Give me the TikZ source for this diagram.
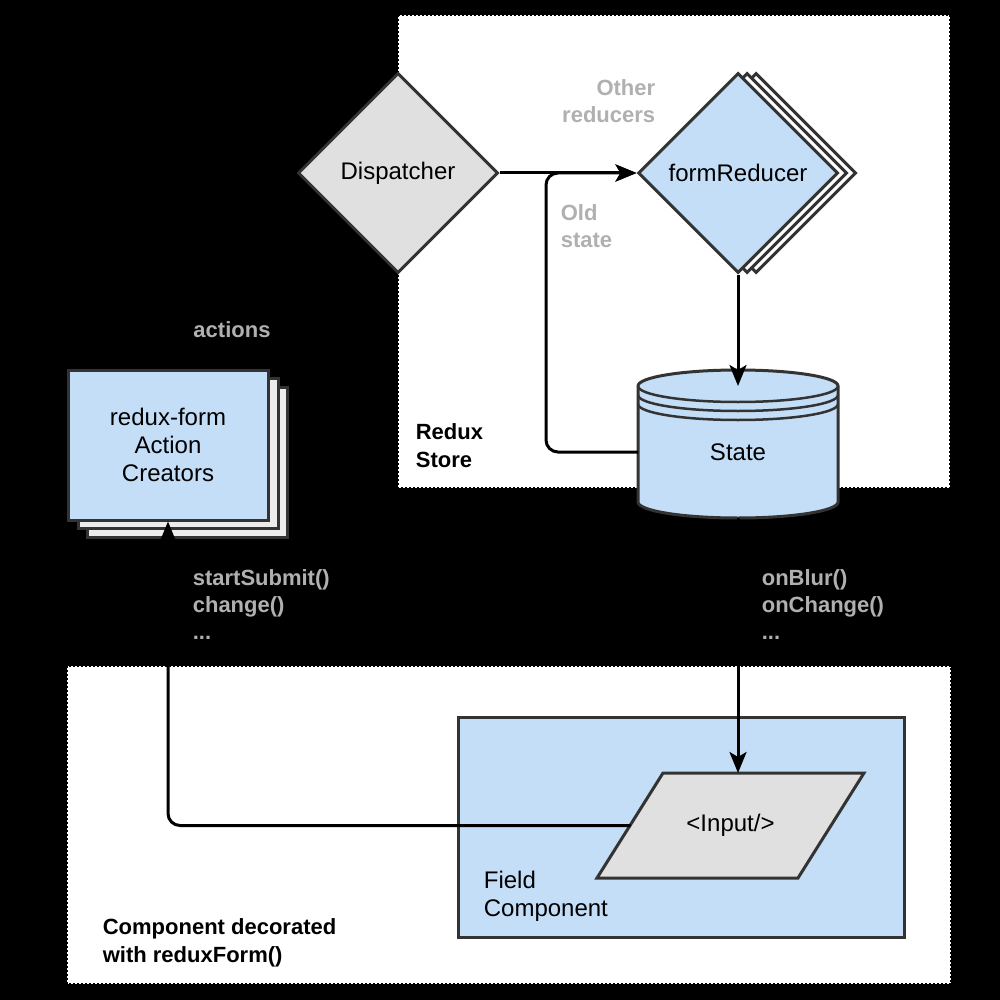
\documentclass[tikz,border=0pt]{standalone}
\usepackage{fontspec}
\setmainfont{Liberation Sans}
\usetikzlibrary{arrows.meta,shapes.geometric,positioning}
\definecolor{boxblue}{RGB}{196,222,247}
\definecolor{boxgray}{RGB}{224,224,224}
\definecolor{copygray}{RGB}{236,236,236}
\definecolor{edgegray}{RGB}{51,51,51}
\definecolor{labelgray}{RGB}{176,176,176}
\tikzset{
    container/.style={fill=white, draw=black, line width=2pt, dash pattern=on 2pt off 2pt},
    reducerbox/.style={diamond, draw=edgegray, line width=3pt, minimum width=200pt, minimum height=200pt, inner sep=0pt},
    actionbox/.style={rectangle, draw=edgegray, line width=3pt, minimum width=200pt, minimum height=150pt, inner sep=0pt, align=center},
    edgelabel/.style={text=labelgray, font=\bfseries\fontsize{22pt}{27pt}\selectfont},
    boxlabel/.style={text=black, align=left, font=\bfseries\fontsize{22pt}{28pt}\selectfont},
}

\begin{document}
\begin{tikzpicture}[x=1pt, y=-1pt, line width=3pt, black,
    >={Stealth[length=21pt, width=17pt, inset=5pt]},
    every node/.style={font=\fontsize{24pt}{28pt}\selectfont}]
    \path[use as bounding box, fill=black] (0,0) rectangle (1000,1000);

    %Containers
    \draw[container] (398,15) rectangle (950,488);
    \draw[container] (67,666) rectangle (951,984);
    \draw[draw=edgegray, fill=boxblue] (458,717) rectangle (904,937);

    %Nodes
    \node (disp) [reducerbox, fill=boxgray] at (398,173) {Dispatcher};

    \node (redC) [reducerbox, fill=white] at (756,173) {};
    \node (redB) [reducerbox, fill=white] at (747,173) {};
    \node (red)  [reducerbox, fill=boxblue] at (738,173) {formReducer};

    \node (creatorsC) [actionbox, fill=copygray] at (187,462) {};
    \node (creatorsB) [actionbox, fill=copygray] at (178,453) {};
    \node (creators)  [actionbox, fill=boxblue] at (168,445) {redux-form\\Action\\Creators};

    % cylinder for the state
    \draw[draw=edgegray, fill=boxblue] (638,386) -- (638,502)
        arc[start angle=180, end angle=0, x radius=100, y radius=16] -- (838,386)
        arc[start angle=0, end angle=-180, x radius=100, y radius=16] -- cycle;
    \foreach \dy in {0,9,18}
        \draw[draw=edgegray, line width=2.5pt] (638,386+\dy) arc[start angle=180, end angle=0, x radius=100, y radius=16];
    \node (state) [minimum width=200pt, minimum height=132pt, inner sep=0pt, outer sep=0pt] at (738,452) {State};

    % parallelogram for the input
    \draw[draw=edgegray, fill=boxgray] (597,878) -- (798,878) -- (864,773) -- (663,773) -- cycle;
    \node (input) [minimum width=200pt, minimum height=105pt, inner sep=0pt, outer sep=0pt] at (730.5,825.5) {<Input/>};

    % Text labels (outside nodes)
    \node (actionsLabel) [edgelabel]                          at (232,330) {actions};
    \node (otherLabel)   [edgelabel, align=right, anchor=east] at (660,101) {Other\\reducers};
    \node (oldLabel)     [edgelabel, align=left, anchor=west]  at (556,226) {Old\\state};
    \node (submitLabel)  [edgelabel, align=left, anchor=west]  at (188,605) {startSubmit()\\change()\\...};
    \node (blurLabel)    [edgelabel, align=left, anchor=west]  at (757,605) {onBlur()\\onChange()\\...};
    \node (storeLabel)   [boxlabel, anchor=west]               at (411,446) {Redux\\Store};
    \node (formLabel)    [boxlabel, anchor=west]               at (98,943)  {Component decorated\\with reduxForm()};
    \node (fieldLabel)   [align=left, anchor=west]             at (479,896) {Field\\Component};

    %Lines
    \draw[->] (creators.north) |- (disp.west);
    \draw[->] (disp.east) -- (red.west);
    \draw[->, rounded corners=12pt] (state.west) -- ++(-92,0) |- (red.west);
    \draw[->] (red.south) -- (state.north);
    \draw[->] (state.south) -- (state.south |- input.north);
    \draw[->, rounded corners=12pt] (input.west) -| (creators.south);
\end{tikzpicture}
\end{document}
